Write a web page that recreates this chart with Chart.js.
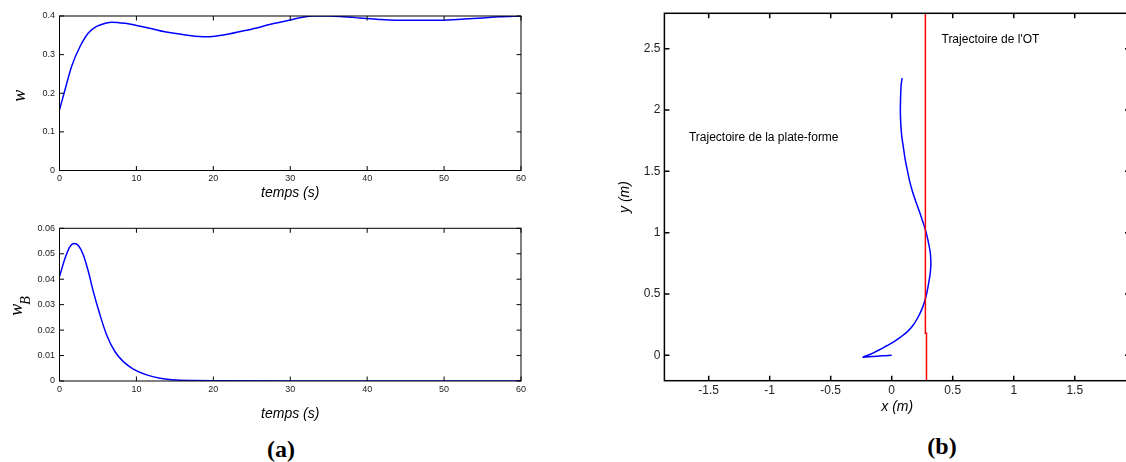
<!DOCTYPE html>
<html><head><meta charset="utf-8">
<script src="https://cdn.jsdelivr.net/npm/chart.js@4.4.1/dist/chart.umd.min.js"></script>
<style>
html,body{margin:0;padding:0;background:#fff;overflow:hidden;}
body{width:1126px;height:462px;position:relative;}
canvas{position:absolute;}
.lab{position:absolute;font:bold 24px "Liberation Serif","Times New Roman",serif;line-height:24px;color:#000;transform:translate(-50%,-50%);white-space:nowrap;}
</style></head><body>
<canvas id="cw" width="560" height="215" style="left:0;top:0"></canvas>
<canvas id="cwb" width="560" height="230" style="left:0;top:200px"></canvas>
<canvas id="cxy" width="530" height="425" style="left:600px;top:0"></canvas>
<div class="lab" style="left:281px;top:449px">(a)</div>
<div class="lab" style="left:942px;top:446px">(b)</div>
<script>
// ---- data ----
const timeW   = [0, 0.72, 1.58, 2.67, 3.75, 4.83, 6.1, 6.8, 8.5, 10.15, 12, 13.7, 16.4, 19.1, 21.3, 24.5, 28, 30.3, 31.6, 33, 35, 37, 39, 41.5, 43.7, 46, 49.5, 52.6, 55, 57.1, 60];
const wValues = [0.157, 0.209, 0.27, 0.321, 0.356, 0.373, 0.382, 0.384, 0.381, 0.375, 0.367, 0.359, 0.351, 0.346, 0.351, 0.364, 0.381, 0.391, 0.397, 0.4, 0.4, 0.398, 0.395, 0.391, 0.389, 0.389, 0.389, 0.392, 0.395, 0.398, 0.4];

const timeWB   = [0, 0.72, 1.36, 1.89, 2.45, 3.1, 3.75, 4.4, 5.27, 6.13, 7.22, 8.3, 9.6, 11.33, 13.07, 15.2, 17.5, 20, 30, 40, 50, 60];
const wBValues = [0.041, 0.0482, 0.0528, 0.054, 0.0532, 0.0495, 0.043, 0.0351, 0.0259, 0.0181, 0.0115, 0.0076, 0.0047, 0.0024, 0.0011, 0.0004, 0.0002, 0.0001, 0, 0, 0, 0];

const platformX = [0, -0.08, -0.16, -0.235, -0.2, -0.15, -0.1, -0.04, 0.019, 0.075, 0.129, 0.175, 0.21, 0.245, 0.27, 0.288, 0.305, 0.317, 0.321, 0.317, 0.305, 0.29, 0.271, 0.248, 0.224, 0.195, 0.169, 0.147, 0.128, 0.11, 0.095, 0.083, 0.076, 0.072, 0.071, 0.072, 0.074, 0.077, 0.085];
const platformY = [0, -0.004, -0.01, -0.015, -0.002, 0.02, 0.045, 0.078, 0.111, 0.15, 0.193, 0.245, 0.3, 0.37, 0.44, 0.51, 0.6, 0.68, 0.75, 0.83, 0.9, 0.97, 1.04, 1.11, 1.18, 1.26, 1.34, 1.42, 1.51, 1.6, 1.7, 1.78, 1.86, 1.94, 2.0, 2.07, 2.14, 2.2, 2.26];

const otX = [0.285, 0.285, 0.276, 0.276];
const otY = [-0.21, 0.18, 0.18, 2.79];

const noteTexts = ["Trajectoire de l'OT", "Trajectoire de la plate-forme"];
const noteX = [0.408, -1.662];
const noteY = [2.57, 1.774];

const timeTicks = [0, 10, 20, 30, 40, 50, 60];
const timeTickLabels = ['0', '10', '20', '30', '40', '50', '60'];
const wTicks = [0, 0.1, 0.2, 0.3, 0.4];
const wTickLabels = ['0', '0.1', '0.2', '0.3', '0.4'];
const wBTicks = [0, 0.01, 0.02, 0.03, 0.04, 0.05, 0.06];
const wBTickLabels = ['0', '0.01', '0.02', '0.03', '0.04', '0.05', '0.06'];
const xTicks = [-1.5, -1, -0.5, 0, 0.5, 1, 1.5];
const xTickLabels = ['-1.5', '-1', '-0.5', '0', '0.5', '1', '1.5'];
const yTicks = [0, 0.5, 1, 1.5, 2, 2.5];
const yTickLabels = ['0', '0.5', '1', '1.5', '2', '2.5'];

// ---- helpers ----
const SANS = '"Liberation Sans", Arial, sans-serif';
const zip = (a, b) => a.map((v, i) => ({x: v, y: b[i]}));

function axis(min, max, vals, labels, size, pad, fitFn, title) {
  const o = {
    type: 'linear', min, max,
    grid: {display: false, drawTicks: false},
    border: {display: false},
    ticks: {autoSkip: false, maxRotation: 0, minRotation: 0, padding: pad, color: '#222',
            font: {family: SANS, size: size}, callback: (v, i) => labels[i]},
    afterBuildTicks: s => { s.ticks = vals.map(v => ({value: v})); },
    afterFit: fitFn
  };
  if (title) o.title = title;
  return o;
}

function framePlugin(L, lw) {
  return {
    id: 'frame',
    afterDatasetsDraw(chart) {
      const {ctx, chartArea: a, scales: {x, y}} = chart;
      ctx.save();
      ctx.strokeStyle = '#000';
      ctx.lineWidth = lw;
      ctx.beginPath();
      x.ticks.forEach(t => {
        const p = x.getPixelForValue(t.value);
        ctx.moveTo(p, a.bottom); ctx.lineTo(p, a.bottom - L);
        ctx.moveTo(p, a.top); ctx.lineTo(p, a.top + L);
      });
      y.ticks.forEach(t => {
        const p = y.getPixelForValue(t.value);
        ctx.moveTo(a.left, p); ctx.lineTo(a.left + L, p);
        ctx.moveTo(a.right, p); ctx.lineTo(a.right - L, p);
      });
      ctx.stroke();
      ctx.strokeRect(a.left, a.top, a.right - a.left, a.bottom - a.top);
      ctx.restore();
    }
  };
}

function lineSet(data, color, extra) {
  return Object.assign({data, borderColor: color, borderWidth: 1.5, pointRadius: 0,
    showLine: true, fill: false}, extra || {});
}

const common = {
  responsive: false, animation: false,
  plugins: {legend: {display: false}, tooltip: {enabled: false}}
};

// ---- chart (a) top: w ----
new Chart(document.getElementById('cw'), {
  type: 'scatter',
  data: {datasets: [lineSet(zip(timeW, wValues), '#0000ff', {cubicInterpolationMode: 'monotone'})]},
  options: Object.assign({}, common, {
    layout: {padding: {left: 0, top: 16, right: 39, bottom: 0}},
    scales: {
      x: axis(0, 60, timeTicks, timeTickLabels, 9, 3.1, s => { s.height = 44.5; },
        {display: true, text: 'temps (s)', color: '#000', font: {family: SANS, size: 14, style: 'italic'}, padding: {top: 0, bottom: 13.1}}),
      y: axis(0, 0.4, wTicks, wTickLabels, 9, 4.5, s => { s.width = 59.5; })
    }
  }),
  plugins: [framePlugin(4.5, 1), {
    id: 'ylab',
    afterDraw(chart) {
      const ctx = chart.ctx, a = chart.chartArea;
      ctx.save();
      ctx.translate(25, (a.top + a.bottom) / 2 + 2.5);
      ctx.rotate(-Math.PI / 2);
      ctx.font = 'italic 18px "Liberation Serif", serif';
      ctx.textAlign = 'center';
      ctx.textBaseline = 'alphabetic';
      ctx.fillStyle = '#000';
      ctx.fillText('w', 0, 0);
      ctx.restore();
    }
  }]
});

// ---- chart (a) bottom: w_B ----
new Chart(document.getElementById('cwb'), {
  type: 'scatter',
  data: {datasets: [lineSet(zip(timeWB, wBValues), '#0000ff', {cubicInterpolationMode: 'monotone'})]},
  options: Object.assign({}, common, {
    layout: {padding: {left: 0, top: 28.3, right: 39, bottom: 0}},
    scales: {
      x: axis(0, 60, timeTicks, timeTickLabels, 9, 3.1, s => { s.height = 49; },
        {display: true, text: 'temps (s)', color: '#000', font: {family: SANS, size: 14, style: 'italic'}, padding: {top: 0, bottom: 7.6}}),
      y: axis(0, 0.06, wBTicks, wBTickLabels, 9, 4.5, s => { s.width = 59.5; })
    }
  }),
  plugins: [framePlugin(4.5, 1), {
    id: 'ylab',
    afterDraw(chart) {
      const ctx = chart.ctx, a = chart.chartArea;
      const cy = (a.top + a.bottom) / 2;
      ctx.save();
      ctx.translate(21.7, cy + 11);
      ctx.rotate(-Math.PI / 2);
      ctx.fillStyle = '#000';
      ctx.textAlign = 'left';
      ctx.textBaseline = 'alphabetic';
      ctx.font = 'italic 18px "Liberation Serif", serif';
      ctx.fillText('w', 0, 0);
      const ww = ctx.measureText('w').width;
      ctx.font = 'italic 14px "Liberation Serif", serif';
      ctx.fillText('B', ww - 1, 8.3);
      ctx.restore();
    }
  }]
});

// ---- chart (b): trajectories ----
new Chart(document.getElementById('cxy'), {
  type: 'scatter',
  data: {datasets: [
    lineSet(zip(otX, otY), '#ff0000', {tension: 0}),
    lineSet(zip(platformX, platformY), '#0000ff', {tension: 0.3})
  ]},
  options: Object.assign({}, common, {
    layout: {padding: {left: 0, top: 13.3, right: 0, bottom: 0}},
    scales: {
      x: axis(-1.863, 1.953, xTicks, xTickLabels, 12, 3.1, s => { s.height = 44.3; },
        {display: true, text: 'x (m)', color: '#000', font: {family: SANS, size: 14, style: 'italic'}, padding: {top: 0, bottom: 9.9}}),
      y: axis(-0.207, 2.788, yTicks, yTickLabels, 12, 4, s => { s.width = 64.4; },
        {display: true, text: 'y (m)', color: '#000', font: {family: SANS, size: 14, style: 'italic'}, padding: {top: 16.8, bottom: 0}})
    }
  }),
  plugins: [framePlugin(5, 1.5), {
    id: 'notes',
    afterDraw(chart) {
      const {ctx, scales: {x, y}} = chart;
      ctx.save();
      ctx.font = '12px ' + SANS;
      ctx.fillStyle = '#000';
      ctx.textAlign = 'left';
      ctx.textBaseline = 'middle';
      noteTexts.forEach((t, i) => ctx.fillText(t, x.getPixelForValue(noteX[i]), y.getPixelForValue(noteY[i])));
      ctx.restore();
    }
  }]
});
</script>
</body></html>
